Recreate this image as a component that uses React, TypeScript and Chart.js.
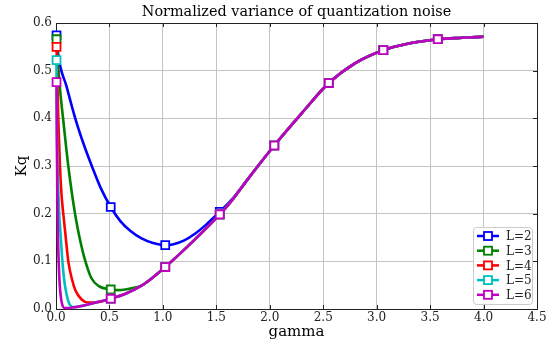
import React, { useEffect, useRef } from "react";
import { Chart, registerables } from "chart.js";

Chart.register(...registerables);

const titleText = "Normalized variance of quantization noise";
const xLabel = "gamma";
const yLabel = "Kq";
const seriesLabels = ["L=2", "L=3", "L=4", "L=5", "L=6"];
const seriesColors = ["#0000ff", "#008000", "#ff0000", "#00bfbf", "#bf00bf"];
const xTickValues = [0, 0.5, 1, 1.5, 2, 2.5, 3, 3.5, 4, 4.5];
const yTickValues = [0, 0.1, 0.2, 0.3, 0.4, 0.5, 0.6];
const markerGammas = [0.005, 0.512, 1.022, 1.532, 2.042, 2.552, 3.062, 3.572];

// L=6 full curve (shared tail for the others)
const gammaL6 = [0.005, 0.008, 0.012, 0.017, 0.025, 0.035, 0.045, 0.055, 0.068, 0.085, 0.11, 0.14, 0.17, 0.22, 0.3, 0.4, 0.512, 0.65, 0.8, 0.9, 1.022, 1.15, 1.3, 1.532, 1.65, 1.8, 2.042, 2.3, 2.552, 2.8, 3.062, 3.3, 3.572, 3.8, 4.0];
const kqL6 = [0.476, 0.35, 0.25, 0.166, 0.1, 0.05, 0.026, 0.012, 0.004, 0.002, 0.0018, 0.0025, 0.0035, 0.0055, 0.0095, 0.015, 0.0216, 0.032, 0.049, 0.065, 0.088, 0.114, 0.146, 0.1985, 0.229, 0.274, 0.343, 0.411, 0.474, 0.516, 0.543, 0.557, 0.566, 0.569, 0.571];

const gammaL5 = [0.005, 0.008, 0.015, 0.03, 0.04, 0.06, 0.08, 0.1, 0.12, 0.14, 0.16, 0.19, 0.22];
const kqL5 = [0.522, 0.4, 0.3, 0.2, 0.166, 0.1, 0.055, 0.03, 0.013, 0.006, 0.004, 0.0042, 0.0055];

const gammaL4 = [0.005, 0.012, 0.022, 0.037, 0.05, 0.068, 0.084, 0.115, 0.15, 0.18, 0.24, 0.3, 0.35];
const kqL4 = [0.55, 0.48, 0.396, 0.3, 0.245, 0.2, 0.166, 0.1, 0.062, 0.04, 0.02, 0.0135, 0.0135];

const gammaL3 = [0.005, 0.02, 0.04, 0.068, 0.115, 0.178, 0.24, 0.28, 0.33, 0.4, 0.512, 0.58, 0.65, 0.72];
const kqL3 = [0.566, 0.51, 0.455, 0.396, 0.3, 0.2, 0.13, 0.096, 0.065, 0.048, 0.041, 0.0395, 0.041, 0.044];

const gammaL2 = [0.005, 0.02, 0.1, 0.18, 0.26, 0.335, 0.42, 0.512, 0.6, 0.7, 0.8, 0.9, 1.022, 1.1, 1.2, 1.3, 1.4, 1.532, 1.65, 1.8];
const kqL2 = [0.574, 0.535, 0.466, 0.4, 0.345, 0.3, 0.253, 0.214, 0.185, 0.163, 0.148, 0.139, 0.134, 0.136, 0.144, 0.158, 0.176, 0.204, 0.231, 0.274];

const FONT = "'DejaVu Serif', serif";

function joinTail(g: number[], k: number[]) {
  const pts = g.map((x, i) => ({ x, y: k[i] }));
  const last = g[g.length - 1];
  gammaL6.forEach((x, i) => {
    if (x > last + 1e-9) pts.push({ x, y: kqL6[i] });
  });
  return pts;
}

const isMarker = (x: number) => markerGammas.some((m) => Math.abs(m - x) < 1e-6);

const decorPlugin = {
  id: "decor",
  beforeDatasetsDraw(chart: any) {
    const { ctx, chartArea: a, scales } = chart;
    ctx.save();
    ctx.strokeStyle = "#222";
    ctx.lineWidth = 1;
    ctx.beginPath();
    xTickValues.forEach((v) => {
      const px = Math.round(scales.x.getPixelForValue(v)) + 0.5;
      ctx.moveTo(px, a.bottom);
      ctx.lineTo(px, a.bottom - 4);
      ctx.moveTo(px, a.top);
      ctx.lineTo(px, a.top + 4);
    });
    yTickValues.forEach((v) => {
      const py = Math.round(scales.y.getPixelForValue(v)) + 0.5;
      ctx.moveTo(a.left, py);
      ctx.lineTo(a.left + 4, py);
      ctx.moveTo(a.right, py);
      ctx.lineTo(a.right - 4, py);
    });
    ctx.stroke();
    ctx.strokeRect(Math.round(a.left) + 0.5, Math.round(a.top) + 0.5, Math.round(a.right - a.left), Math.round(a.bottom - a.top));
    ctx.restore();
  },
  afterDraw(chart: any) {
    const { ctx, chartArea: a } = chart;
    ctx.save();
    ctx.fillStyle = "#000";
    ctx.font = `14.4px ${FONT}`;
    ctx.textAlign = "center";
    ctx.textBaseline = "middle";
    ctx.fillText(titleText, (a.left + a.right) / 2, 12);
    ctx.font = `15px ${FONT}`;
    ctx.fillText(xLabel, (a.left + a.right) / 2, 332);
    ctx.save();
    ctx.translate(22, (a.top + a.bottom) / 2);
    ctx.rotate(-Math.PI / 2);
    ctx.fillText(yLabel, 0, 0);
    ctx.restore();

    // legend
    const bx = 473, by = 227, bw = 59, bh = 77;
    ctx.fillStyle = "rgba(255,255,255,0.85)";
    ctx.strokeStyle = "#cccccc";
    ctx.lineWidth = 1;
    ctx.beginPath();
    (ctx as any).roundRect(bx + 0.5, by + 0.5, bw, bh, 3);
    ctx.fill();
    ctx.stroke();
    ctx.font = `12px ${FONT}`;
    ctx.textAlign = "left";
    seriesLabels.forEach((lab, i) => {
      const y = 236 + i * 14.7;
      ctx.strokeStyle = seriesColors[i];
      ctx.lineWidth = 2.5;
      ctx.beginPath();
      ctx.moveTo(477, y);
      ctx.lineTo(499, y);
      ctx.stroke();
      ctx.fillStyle = "#fff";
      ctx.lineWidth = 1.8;
      ctx.fillRect(484, y - 4, 8, 8);
      ctx.strokeRect(484, y - 4, 8, 8);
      ctx.fillStyle = "#222";
      ctx.fillText(lab, 506, y + 1);
    });
    ctx.restore();
  },
};

export default function App() {
  const ref = useRef<HTMLCanvasElement>(null);
  useEffect(() => {
    document.body.style.margin = "0";
    const seriesPoints = [
      joinTail(gammaL2, kqL2),
      joinTail(gammaL3, kqL3),
      joinTail(gammaL4, kqL4),
      joinTail(gammaL5, kqL5),
      gammaL6.map((x, i) => ({ x, y: kqL6[i] })),
    ];
    const chart = new Chart(ref.current!, {
      type: "line",
      data: {
        datasets: seriesPoints.map((pts, i) => ({
          label: seriesLabels[i],
          data: pts,
          borderColor: seriesColors[i],
          borderWidth: 2.6,
          cubicInterpolationMode: "monotone" as const,
          pointStyle: "rect" as const,
          pointRadius: (c: any) => (isMarker(c.raw?.x) ? 5.6 : 0),
          pointHoverRadius: 0,
          pointBackgroundColor: "#ffffff",
          pointBorderColor: seriesColors[i],
          pointBorderWidth: 1.8,
          order: 4 - i,
          clip: false as any,
        })),
      },
      options: {
        animation: false,
        responsive: false,
        events: [],
        layout: { padding: { left: 0, right: 19, top: 23, bottom: 0 } },
        plugins: { legend: { display: false }, title: { display: false }, tooltip: { enabled: false } },
        scales: {
          x: {
            type: "linear",
            min: 0,
            max: 4.5,
            afterFit: (s: any) => { s.height = 36; },
            afterBuildTicks: (s: any) => { s.ticks = xTickValues.map((v) => ({ value: v })); },
            ticks: { font: { family: FONT, size: 12 }, color: "#222", padding: 2, maxRotation: 0, callback: (v: any) => Number(v).toFixed(1) },
            grid: { color: "#c4c4c4", lineWidth: 1, drawTicks: false },
            border: { display: false },
          },
          y: {
            type: "linear",
            min: 0,
            max: 0.6,
            afterFit: (s: any) => { s.width = 56; },
            afterBuildTicks: (s: any) => { s.ticks = yTickValues.map((v) => ({ value: v })); },
            ticks: { font: { family: FONT, size: 12 }, color: "#222", padding: 4, callback: (v: any) => Number(v).toFixed(1) },
            grid: { color: "#c4c4c4", lineWidth: 1, drawTicks: false },
            border: { display: false },
          },
        },
      },
      plugins: [decorPlugin],
    } as any);
    return () => chart.destroy();
  }, []);
  return <canvas ref={ref} width={556} height={345} style={{ display: "block" }} />;
}
